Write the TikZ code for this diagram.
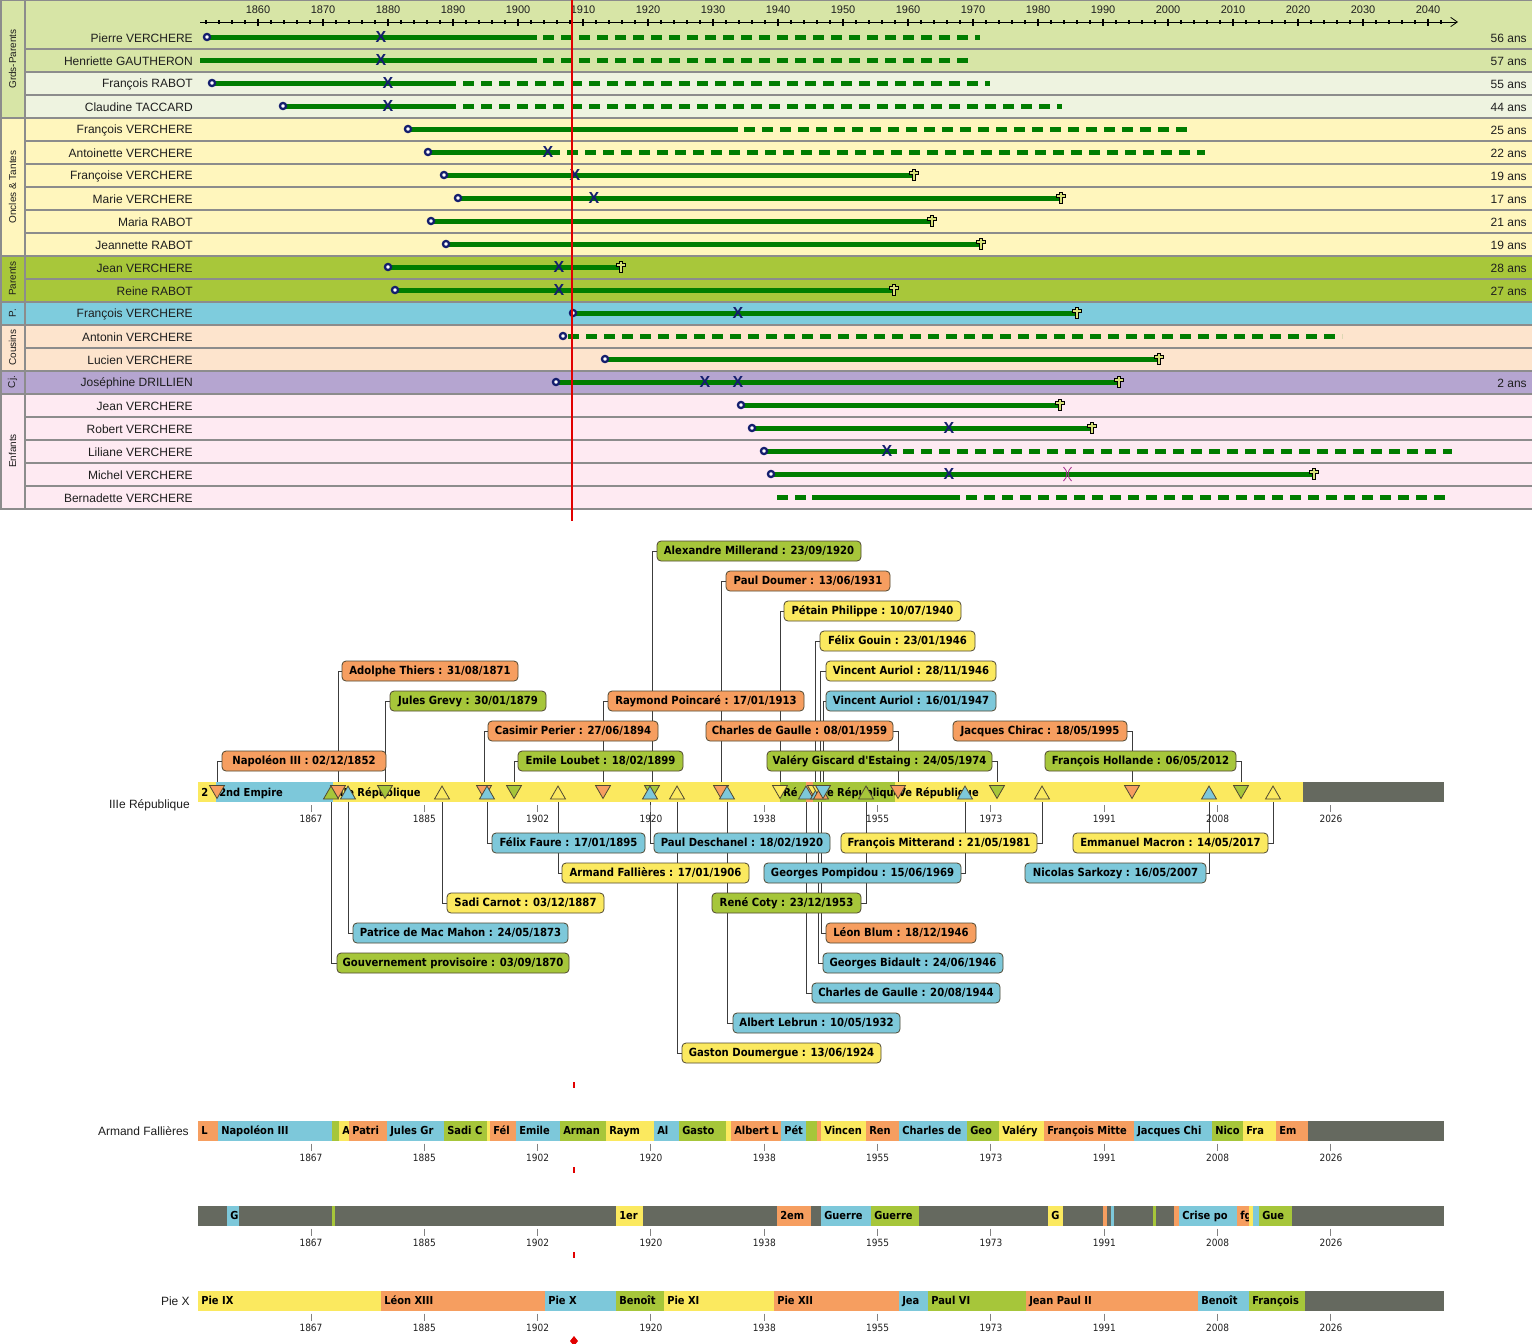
\documentclass[tikz,border=0pt]{standalone}
\usepackage{fontspec}
\setmainfont{Liberation Sans}
\newfontfamily\tah[FakeStretch=0.9]{DejaVu Sans}
\usetikzlibrary{shapes.geometric,arrows.meta}
\pgfdeclarelayer{back}
\pgfdeclarelayer{bg}
\pgfsetlayers{back,bg,main}
\definecolor{gpA}{RGB}{215,229,166}
\definecolor{gpB}{RGB}{238,243,224}
\definecolor{onc}{RGB}{255,246,189}
\definecolor{par}{RGB}{168,199,58}
\definecolor{pcl}{RGB}{126,204,221}
\definecolor{cou}{RGB}{253,228,205}
\definecolor{cjc}{RGB}{181,165,208}
\definecolor{enf}{RGB}{254,234,242}
\definecolor{sepg}{RGB}{140,140,140}
\definecolor{lifeg}{RGB}{0,125,0}
\definecolor{navy}{RGB}{20,30,110}
\definecolor{crossf}{RGB}{215,225,120}
\definecolor{divp}{RGB}{160,40,140}
\definecolor{redl}{RGB}{225,0,0}
\definecolor{cor}{RGB}{246,158,96}
\definecolor{cgr}{RGB}{166,198,58}
\definecolor{cbl}{RGB}{125,200,218}
\definecolor{cye}{RGB}{251,233,95}
\definecolor{cgy}{RGB}{101,105,95}
\definecolor{bordc}{RGB}{80,72,50}
\definecolor{connc}{RGB}{60,60,60}
\definecolor{txtc}{RGB}{30,30,30}
\tikzset{
 life/.style={lifeg, line width=3.75pt},
 lifed/.style={lifeg, line width=3.75pt, dash pattern=on 8.25pt off 5.25pt},
 birthm/.style={circle, draw=navy, fill=white, line width=1.7pt, minimum size=4.6pt, inner sep=0pt},
 xm/.style={text=navy, font=\fontsize{12}{12}\selectfont\bfseries, inner sep=0pt},
 deathm/.style={draw=black, fill=crossf, line width=0.5pt},
 pname/.style={anchor=east, text=txtc, font=\fontsize{9}{9}\selectfont, inner sep=0pt},
 agel/.style={anchor=east, text=txtc, font=\fontsize{9}{9}\selectfont, inner sep=0pt},
 grp/.style={rotate=90, text=txtc, font=\fontsize{7.5}{7.5}\selectfont, inner sep=0pt},
 yrl/.style={text=txtc, font=\fontsize{8.25}{8.25}\selectfont, inner sep=0pt},
 sepl/.style={sepg, line width=1.5pt},
 pbox/.style={rounded corners=3pt, draw=bordc, line width=0.6pt, text=black,
   font=\tah\bfseries\fontsize{8.4}{8.4}\selectfont, inner sep=0pt, minimum height=15pt,
   text height=6.2pt, text depth=1.6pt},
 conn/.style={connc, line width=0.75pt},
 tri/.style={regular polygon, regular polygon sides=3, minimum size=13pt, inner sep=0pt, draw=bordc, line width=0.6pt},
 tup/.style={tri},
 tdn/.style={tri, shape border rotate=180},
 segt/.style={anchor=base west, text=black, font=\tah\bfseries\fontsize{8.25}{8.25}\selectfont, inner sep=0pt},
 tickl/.style={text=txtc, font=\tah\fontsize{7.5}{7.5}\selectfont, inner sep=0pt},
 tickc/.style={draw={rgb,255:red,130;green,130;blue,130}, line width=0.75pt},
 redm/.style={redl, line width=1.5pt},
}
\newcounter{sc}
\newcommand\seg[6]{%
  \fill[#5] (#1,#3) rectangle (#2,#4);
  \stepcounter{sc}%
  \begin{scope}
    \clip (#1,#3) rectangle (#2,#4);
    \node[segt] (sg\arabic{sc}) at ({#1+3},{(#3+#4)/2+4}) {#6};
  \end{scope}}
\newcommand\pres[6]{%
  \pgfmathsetmacro\bw{(#3-#2)*0.75}%
  \node[pbox, fill=#5, minimum width=\bw pt] (#1) at ({(#2+#3)/2},#4) {#6};}
\newcommand\deathat[3]{%
  \draw[deathm, shift={(#2,#3)}] (-1.7,-5.5) -- (1.7,-5.5) -- (1.7,-3.2) -- (4.5,-3.2) -- (4.5,-0.2) -- (1.7,-0.2) -- (1.7,5.5) -- (-1.7,5.5) -- (-1.7,-0.2) -- (-4.5,-0.2) -- (-4.5,-3.2) -- (-1.7,-3.2) -- cycle;
  \coordinate (#1) at (#2,#3);}
\newcommand\charticks[2]{%
  \foreach \k/\lab in {0/1867,1/1885,2/1902,3/1920,4/1938,5/1955,6/1973,7/1991,8/2008,9/2026}{%
    \pgfmathsetmacro\xx{311+\k*113.33}%
    \draw[tickc] (\xx,#1+3) -- (\xx,#1+10);
    \node[tickl] (#2\k) at (\xx,#1+17) {\lab};}}
\begin{document}
\begin{tikzpicture}[x=0.75pt,y=-0.75pt]
\useasboundingbox (0,0) rectangle (1532,1343);
\begin{pgfonlayer}{back}
\fill[white] (0,0) rectangle (1532,1343);
\end{pgfonlayer}
% ---------- table backgrounds
\fill[gpA] (0,0) rectangle (1532,48.5);
\foreach \i/\col in {2/gpA,3/gpB,4/gpB,5/onc,6/onc,7/onc,8/onc,9/onc,10/onc,11/par,12/par,13/pcl,14/cou,15/cou,16/cjc,17/enf,18/enf,19/enf,20/enf,21/enf}{%
  \pgfmathsetmacro\cc{37+23*(\i-1)}%
  \fill[\col] (25,\cc-11.5) rectangle (1532,\cc+11.5);}
\fill[gpA] (0,0) rectangle (25,117.5);
\fill[onc] (0,117.5) rectangle (25,255.5);
\fill[par] (0,255.5) rectangle (25,301.5);
\fill[pcl] (0,301.5) rectangle (25,324.5);
\fill[cou] (0,324.5) rectangle (25,370.5);
\fill[cjc] (0,370.5) rectangle (25,393.5);
\fill[enf] (0,393.5) rectangle (25,508.5);
\foreach \i in {1,...,21}{%
  \pgfmathsetmacro\ss{48.5+23*(\i-1)}%
  \draw[sepl] (25,\ss) -- (1532,\ss);}
\foreach \ss in {117.5,255.5,301.5,324.5,370.5,393.5,508.5}{\draw[sepl] (0,\ss) -- (25,\ss);}
\draw[sepl] (25,0) -- (25,508.5);
\draw[sepl] (0.5,0) -- (0.5,508.5);
\draw[sepg, line width=0.75pt] (0,0.5) -- (1532,0.5);
% group labels
\node[grp] (g1) at (12.5,59) {Grds-Parents};
\node[grp] (g2) at (12.5,187) {Oncles \& Tantes};
\node[grp] (g3) at (12.5,278.5) {Parents};
\node[grp] (g4) at (12.5,313) {P.};
\node[grp] (g5) at (12.5,347.5) {Cousins};
\node[grp] (g6) at (12.5,382) {Cj.};
\node[grp] (g7) at (12.5,451) {Enfants};
% names
\foreach \i/\nm in {1/Pierre VERCHERE,2/Henriette GAUTHERON,3/François RABOT,4/Claudine TACCARD,5/François VERCHERE,6/Antoinette VERCHERE,7/Françoise VERCHERE,8/Marie VERCHERE,9/Maria RABOT,10/Jeannette RABOT,11/Jean VERCHERE,12/Reine RABOT,13/François VERCHERE,14/Antonin VERCHERE,15/Lucien VERCHERE,16/Joséphine DRILLIEN,17/Jean VERCHERE,18/Robert VERCHERE,19/Liliane VERCHERE,20/Michel VERCHERE,21/Bernadette VERCHERE}{%
  \node[pname] (nm\i) at (193,{38+23*(\i-1)}) {\nm};}
\foreach \i/\ag in {1/56,2/57,3/55,4/44,5/25,6/22,7/19,8/17,9/21,10/19,11/28,12/27,16/2}{%
  \node[agel] (ag\i) at (1527,{38+23*(\i-1)}) {\ag{} ans};}
% axis
\draw[black, line width=0.75pt, -{Straight Barb[length=5pt,width=7pt,line width=0.6pt]}] (200,22) -- (1458,22);
\foreach \yy in {1852,1854,...,2042}{%
  \pgfmathsetmacro\xx{258+(\yy-1860)*6.5}%
  \draw[black, line width=1.3pt] (\xx,20.3) -- (\xx,24);}
\foreach \yy in {1860,1870,...,2040}{%
  \pgfmathsetmacro\xx{258+(\yy-1860)*6.5}%
  \draw[black, line width=1.5pt] (\xx,18.5) -- (\xx,25.5);
  \node[yrl] (yl\yy) at (\xx,10) {\yy};}
% ---------- lifelines
\draw[life] (207,37) -- (537,37); \draw[lifed] (543,37) -- (980,37);
\node[birthm] (b1) at (207,37) {}; \node[xm] (m1) at (381,37) {X};
\draw[life] (200,60) -- (537,60); \draw[lifed] (543,60) -- (970,60);
\node[xm] (m2) at (381,60) {X};
\draw[life] (212,83) -- (456,83); \draw[lifed] (463,83) -- (990,83);
\node[birthm] (b3) at (212,83) {}; \node[xm] (m3) at (388,83) {X};
\draw[life] (283,106) -- (456,106); \draw[lifed] (463,106) -- (1062,106);
\node[birthm] (b4) at (283,106) {}; \node[xm] (m4) at (388,106) {X};
\draw[life] (408,129) -- (738,129); \draw[lifed] (744,129) -- (1187,129);
\node[birthm] (b5) at (408,129) {};
\draw[life] (428,152) -- (560,152); \draw[lifed] (567,152) -- (1205,152);
\node[birthm] (b6) at (428,152) {}; \node[xm] (m6) at (548,152) {X};
\draw[life] (444,175) -- (914,175);
\node[birthm] (b7) at (444,175) {}; \node[xm] (m7) at (575,175) {X}; \deathat{d7}{914}{175}
\draw[life] (458,198) -- (1061,198);
\node[birthm] (b8) at (458,198) {}; \node[xm] (m8) at (594,198) {X}; \deathat{d8}{1061}{198}
\draw[life] (431,221) -- (932,221);
\node[birthm] (b9) at (431,221) {}; \deathat{d9}{932}{221}
\draw[life] (446,244) -- (981,244);
\node[birthm] (b10) at (446,244) {}; \deathat{d10}{981}{244}
\draw[life] (388,267) -- (621,267);
\node[birthm] (b11) at (388,267) {}; \node[xm] (m11) at (559,267) {X}; \deathat{d11}{621}{267}
\draw[life] (395,290) -- (894,290);
\node[birthm] (b12) at (395,290) {}; \node[xm] (m12) at (559,290) {X}; \deathat{d12}{894}{290}
\draw[life] (573,313) -- (1077,313);
\node[birthm] (b13) at (573,313) {}; \node[xm] (m13) at (738,313) {X}; \deathat{d13}{1077}{313}
\draw[lifed] (568,336) -- (1342,336);
\node[birthm] (b14) at (563,336) {};
\draw[life] (605,359) -- (1159,359);
\node[birthm] (b15) at (605,359) {}; \deathat{d15}{1159}{359}
\draw[life] (556,382) -- (1119,382);
\node[birthm] (b16) at (556,382) {}; \node[xm] (m16a) at (705,382) {X}; \node[xm] (m16b) at (738,382) {X}; \deathat{d16}{1119}{382}
\draw[life] (741,405) -- (1060,405);
\node[birthm] (b17) at (741,405) {}; \deathat{d17}{1060}{405}
\draw[life] (752,428) -- (1092,428);
\node[birthm] (b18) at (752,428) {}; \node[xm] (m18) at (949,428) {X}; \deathat{d18}{1092}{428}
\draw[life] (764,451) -- (897,451); \draw[lifed] (903,451) -- (1452,451);
\node[birthm] (b19) at (764,451) {}; \node[xm] (m19) at (887,451) {X};
\draw[life] (771,474) -- (1314,474);
\node[birthm] (b20) at (771,474) {}; \node[xm] (m20) at (949,474) {X};
\draw[divp, line width=0.6pt] (1063.5,467) .. controls (1068,471) and (1068,477) .. (1063.5,481);
\draw[divp, line width=0.6pt] (1071.5,467) .. controls (1067,471) and (1067,477) .. (1071.5,481);
\deathat{d20}{1314}{474}
\draw[lifed] (777,497) -- (806,497); \draw[life] (812,497) -- (960,497); \draw[lifed] (966,497) -- (1447,497);
% red date line
\draw[redl, line width=1.5pt] (572,0) -- (572,521);
% ---------- chart 1 : IIIe Republique
\node[pname] (lab1) at (190,805) {IIIe République};
\seg{198}{216}{782}{802}{cye}{2}
\seg{216}{333}{782}{802}{cbl}{2nd Empire}
\seg{333}{780}{782}{802}{cye}{IIIe République}
\seg{780}{806}{782}{802}{cgr}{Ré}
\seg{806}{813}{782}{802}{cor}{}
\seg{813}{895}{782}{802}{cgr}{IVe République}
\seg{895}{1303}{782}{802}{cye}{Ve République}
\seg{1303}{1444}{782}{802}{cgy}{}
\charticks{802}{ta}
\node[tdn, fill=cor] (tnap) at (217,789.8) {};
\node[tdn, fill=cor] (tthi) at (338,789.8) {};
\node[tdn, fill=cgr] (tgre) at (385,789.8) {};
\node[tdn, fill=cor] (tcas) at (484,789.8) {};
\node[tdn, fill=cgr] (tlou) at (514,789.8) {};
\node[tdn, fill=cor] (tpoi) at (603,789.8) {};
\node[tdn, fill=cgr] (tmil) at (652,789.8) {};
\node[tdn, fill=cor] (tdou) at (721,789.8) {};
\node[tdn, fill=cye] (tpet) at (780,789.8) {};
\node[tup, fill=cgr] (tgpv) at (331,794.7) {};
\node[tup, fill=cbl] (tmac) at (348,794.7) {};
\node[tup, fill=cye] (tcar) at (442,794.7) {};
\node[tup, fill=cbl] (tfau) at (487,794.7) {};
\node[tup, fill=cye] (tfal) at (558,794.7) {};
\node[tup, fill=cbl] (tdes) at (650,794.7) {};
\node[tup, fill=cye] (tdmg) at (677,794.7) {};
\node[tup, fill=cbl] (tleb) at (727,794.7) {};
\node[tup, fill=cbl] (tgaa) at (806,794.7) {};
\node[tdn, fill=cye] (tgou) at (815,789.8) {};
\node[tup, fill=cbl] (tbid) at (818,794.7) {};
\node[tdn, fill=cye] (taua) at (820,789.8) {};
\node[tup, fill=cor] (tblu) at (821,794.7) {};
\node[tdn, fill=cbl] (taub) at (823,789.8) {};
\node[tup, fill=cgr] (tcot) at (866,794.7) {};
\node[tdn, fill=cor] (tgab) at (898,789.8) {};
\node[tup, fill=cbl] (tpom) at (965,794.7) {};
\node[tdn, fill=cgr] (tgis) at (997,789.8) {};
\node[tup, fill=cye] (tmit) at (1042,794.7) {};
\node[tdn, fill=cor] (tchi) at (1132,789.8) {};
\node[tup, fill=cbl] (tsar) at (1209,794.7) {};
\node[tdn, fill=cgr] (thol) at (1241,789.8) {};
\node[tup, fill=cye] (tmcr) at (1273,794.7) {};
% boxes
\pres{bnap}{222}{386}{761}{cor}{Napoléon III : 02/12/1852}
\pres{bthi}{342}{518}{671}{cor}{Adolphe Thiers : 31/08/1871}
\pres{bgre}{390}{546}{701}{cgr}{Jules Grevy : 30/01/1879}
\pres{bcas}{488}{658}{731}{cor}{Casimir Perier : 27/06/1894}
\pres{blou}{518}{683}{761}{cgr}{Emile Loubet : 18/02/1899}
\pres{bpoi}{608}{804}{701}{cor}{Raymond Poincaré : 17/01/1913}
\pres{bmil}{657}{861}{551}{cgr}{Alexandre Millerand : 23/09/1920}
\pres{bdou}{726}{890}{581}{cor}{Paul Doumer : 13/06/1931}
\pres{bpet}{784}{961}{611}{cye}{Pétain Philippe : 10/07/1940}
\pres{bgou}{820}{975}{641}{cye}{Félix Gouin : 23/01/1946}
\pres{baua}{826}{996}{671}{cye}{Vincent Auriol : 28/11/1946}
\pres{baub}{826}{996}{701}{cbl}{Vincent Auriol : 16/01/1947}
\pres{bgab}{706}{893}{731}{cor}{Charles de Gaulle : 08/01/1959}
\pres{bgis}{767}{992}{761}{cgr}{Valéry Giscard d'Estaing : 24/05/1974}
\pres{bchi}{953}{1127}{731}{cor}{Jacques Chirac : 18/05/1995}
\pres{bhol}{1045}{1236}{761}{cgr}{François Hollande : 06/05/2012}
\pres{bgpv}{337}{569}{963}{cgr}{Gouvernement provisoire : 03/09/1870}
\pres{bmac}{353}{568}{933}{cbl}{Patrice de Mac Mahon : 24/05/1873}
\pres{bcar}{447}{604}{903}{cye}{Sadi Carnot : 03/12/1887}
\pres{bfau}{492}{645}{843}{cbl}{Félix Faure : 17/01/1895}
\pres{bfal}{562}{749}{873}{cye}{Armand Fallières : 17/01/1906}
\pres{bdes}{654}{830}{843}{cbl}{Paul Deschanel : 18/02/1920}
\pres{bdmg}{682}{881}{1053}{cye}{Gaston Doumergue : 13/06/1924}
\pres{bleb}{733}{900}{1023}{cbl}{Albert Lebrun : 10/05/1932}
\pres{bgaa}{812}{1000}{993}{cbl}{Charles de Gaulle : 20/08/1944}
\pres{bbid}{823}{1003}{963}{cbl}{Georges Bidault : 24/06/1946}
\pres{bblu}{826}{976}{933}{cor}{Léon Blum : 18/12/1946}
\pres{bcot}{712}{861}{903}{cgr}{René Coty : 23/12/1953}
\pres{bpom}{764}{961}{873}{cbl}{Georges Pompidou : 15/06/1969}
\pres{bmit}{841}{1037}{843}{cye}{François Mitterand : 21/05/1981}
\pres{bsar}{1025}{1206}{873}{cbl}{Nicolas Sarkozy : 16/05/2007}
\pres{bmcr}{1073}{1268}{843}{cye}{Emmanuel Macron : 14/05/2017}
% connectors (behind boxes)
\begin{pgfonlayer}{bg}
\foreach \t/\b in {tnap/bnap,tthi/bthi,tgre/bgre,tcas/bcas,tlou/blou,tpoi/bpoi,tmil/bmil,tdou/bdou,tpet/bpet,tgou/bgou,taua/baua,taub/baub,tgab/bgab,tgis/bgis,tchi/bchi,thol/bhol,tgpv/bgpv,tmac/bmac,tcar/bcar,tfau/bfau,tfal/bfal,tdes/bdes,tdmg/bdmg,tleb/bleb,tgaa/bgaa,tbid/bbid,tblu/bblu,tcot/bcot,tpom/bpom,tmit/bmit,tsar/bsar,tmcr/bmcr}{%
  \draw[conn] (\t) |- (\b);}
\end{pgfonlayer}
% ---------- chart 2 : Armand Fallieres
\node[pname] (lab2) at (189,1131) {Armand Fallières};
\seg{198}{218}{1121}{1140.5}{cor}{L}
\seg{218}{332}{1121}{1140.5}{cbl}{Napoléon III}
\seg{332}{339}{1121}{1140.5}{cgr}{}
\seg{339}{349}{1121}{1140.5}{cye}{A}
\seg{349}{387}{1121}{1140.5}{cor}{Patri}
\seg{387}{444}{1121}{1140.5}{cbl}{Jules Gr}
\seg{444}{487}{1121}{1140.5}{cgr}{Sadi C}
\seg{487}{490}{1121}{1140.5}{cye}{}
\seg{490}{516}{1121}{1140.5}{cor}{Fél}
\seg{516}{560}{1121}{1140.5}{cbl}{Emile}
\seg{560}{606}{1121}{1140.5}{cgr}{Arman}
\seg{606}{654}{1121}{1140.5}{cye}{Raym}
\seg{654}{679}{1121}{1140.5}{cbl}{Al}
\seg{679}{726}{1121}{1140.5}{cgr}{Gasto}
\seg{726}{731}{1121}{1140.5}{cye}{}
\seg{731}{781}{1121}{1140.5}{cor}{Albert L}
\seg{781}{806}{1121}{1140.5}{cbl}{Pét}
\seg{806}{817}{1121}{1140.5}{cgr}{}
\seg{817}{821}{1121}{1140.5}{cor}{}
\seg{821}{866}{1121}{1140.5}{cye}{Vincen}
\seg{866}{899}{1121}{1140.5}{cor}{Ren}
\seg{899}{967}{1121}{1140.5}{cbl}{Charles de}
\seg{967}{999}{1121}{1140.5}{cgr}{Geo}
\seg{999}{1044}{1121}{1140.5}{cye}{Valéry}
\seg{1044}{1134}{1121}{1140.5}{cor}{François Mitte}
\seg{1134}{1212}{1121}{1140.5}{cbl}{Jacques Chi}
\seg{1212}{1243}{1121}{1140.5}{cgr}{Nico}
\seg{1243}{1276}{1121}{1140.5}{cye}{Fra}
\seg{1276}{1308}{1121}{1140.5}{cor}{Em}
\seg{1308}{1444}{1121}{1140.5}{cgy}{}
\charticks{1140.5}{tb}
% ---------- chart 3 (events)
\seg{198}{1444}{1206}{1225.5}{cgy}{}
\seg{227}{239}{1206}{1225.5}{cbl}{G}
\seg{332}{335}{1206}{1225.5}{cgr}{}
\seg{616}{643}{1206}{1225.5}{cye}{1er}
\seg{777}{811}{1206}{1225.5}{cor}{2em}
\seg{821}{871}{1206}{1225.5}{cbl}{Guerre}
\seg{871}{919}{1206}{1225.5}{cgr}{Guerre}
\seg{1048}{1063}{1206}{1225.5}{cye}{G}
\seg{1103}{1107}{1206}{1225.5}{cor}{}
\seg{1111}{1114}{1206}{1225.5}{cbl}{}
\seg{1153}{1156}{1206}{1225.5}{cgr}{}
\seg{1174}{1179}{1206}{1225.5}{cor}{}
\seg{1179}{1237}{1206}{1225.5}{cbl}{Crise po}
\seg{1237}{1249}{1206}{1225.5}{cor}{fg}
\seg{1249}{1253}{1206}{1225.5}{cye}{}
\seg{1253}{1259}{1206}{1225.5}{cbl}{}
\seg{1259}{1292}{1206}{1225.5}{cgr}{Gue}
\charticks{1225.5}{tc}
% ---------- chart 4 : Pie X
\node[pname] (lab4) at (190,1301) {Pie X};
\seg{198}{381}{1291}{1310.5}{cye}{Pie IX}
\seg{381}{545}{1291}{1310.5}{cor}{Léon XIII}
\seg{545}{616}{1291}{1310.5}{cbl}{Pie X}
\seg{616}{664}{1291}{1310.5}{cgr}{Benoît}
\seg{664}{774}{1291}{1310.5}{cye}{Pie XI}
\seg{774}{899}{1291}{1310.5}{cor}{Pie XII}
\seg{899}{928}{1291}{1310.5}{cbl}{Jea}
\seg{928}{1026}{1291}{1310.5}{cgr}{Paul VI}
\seg{1026}{1198}{1291}{1310.5}{cor}{Jean Paul II}
\seg{1198}{1249}{1291}{1310.5}{cbl}{Benoît}
\seg{1249}{1305}{1291}{1310.5}{cgr}{François}
\seg{1305}{1444}{1291}{1310.5}{cgy}{}
\charticks{1310.5}{td}
% red date markers
\draw[redm] (574,1082) -- (574,1088);
\draw[redm] (574,1167) -- (574,1173);
\draw[redm] (574,1252) -- (574,1258);
\fill[redl] (574,1336) -- (578,1341) -- (574,1346) -- (570,1341) -- cycle;
\end{tikzpicture}
\end{document}
